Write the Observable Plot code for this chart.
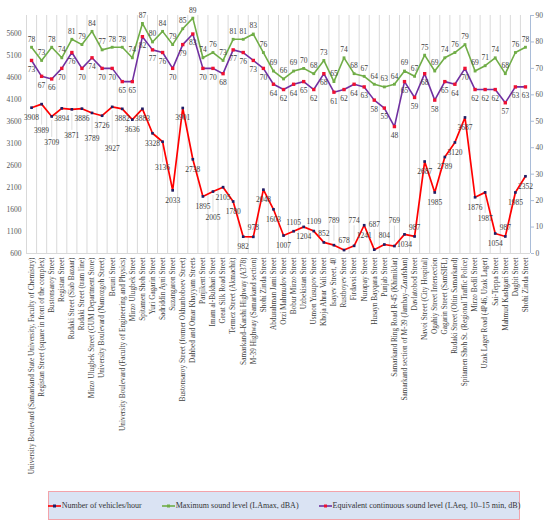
<!DOCTYPE html>
<html>
<head>
<meta charset="utf-8">
<script src="https://cdn.jsdelivr.net/npm/d3@7"></script>
<script src="https://cdn.jsdelivr.net/npm/@observablehq/plot@0.6"></script>
<style>
  html, body { margin: 0; padding: 0; background: #fff; }
  #chart svg { display: block; }
  .legend {
    margin: 3px 0 0 48px; width: 470px; height: 27px;
    background: #dae3f3; border: 1px solid #f3a3aa;
    display: flex; align-items: center; justify-content: center; gap: 20px;
    font-family: "Liberation Serif", serif; font-size: 8px; color: #333;
    white-space: nowrap;
  }
  .legend span { display: flex; align-items: center; flex-shrink: 0; }
  .legend svg { margin-right: 1px; }
</style>
</head>
<body>
<div id="chart"></div>
<div class="legend" id="legend"></div>
<script>
const categories = [
  "University Boulevard (Samarkand State University, Faculty of Chemistry)",
  "Registan Street (square in front of the complex)",
  "Bustonsaroy Street",
  "Registan Street",
  "Rudaki Street (Siab Bazaar)",
  "Rudaki Street (tram line)",
  "Mirzo Ulugbek Street (GUM Department Store)",
  "University Boulevard (Namozgoh Street)",
  "Beruni Street",
  "University Boulevard (Faculty of Engineering and Physics)",
  "Mirzo Ulugbek Street",
  "Spitamen Shoh Street",
  "Yuri Gagarin Street",
  "Sadriddin Ayni Street",
  "Suzangaron Street",
  "Bustonsaroy Street (former Okhunboboev Street)",
  "Dahbed and Omar Khayyam Streets",
  "Panjikent Street",
  "Imam al-Bukhari Street",
  "Great Silk Road Street",
  "Termez Street (Akmachit)",
  "Samarkand–Karshi Highway (A378)",
  "M-39 Highway (Samarkand section)",
  "Shohi Zinda Street",
  "Abdurahman Jami Street",
  "Orzi Mahmudov Street",
  "Bobur Mirzo Street",
  "Uzbekistan Street",
  "Usmon Yusupov Street",
  "Khoja Ahrar Vali Street",
  "Isayev Street, 40",
  "Rustboyev Street",
  "Firdavsi Street",
  "Nurapay Street",
  "Husayn Bayqara Street",
  "Punjab Street",
  "Samarkand Ring Road R-45 (Khimiklar)",
  "Samarkand section of M-39 (Jambay–Zarafshan)",
  "Davlatobod Street",
  "Navoi Street (City Hospital)",
  "Ogahiy Street Intersection",
  "Gagarin Street (SamSIFL)",
  "Rudaki Street (Oltin Samarkand)",
  "Spitamen Shoh St. (Regional Traffic Police)",
  "Mirzo Bedil Street",
  "Uzak Lager Road (4P46, Uzak Lager)",
  "Sai-Teppa Street",
  "Mahmud Kashgari Street",
  "Dagbit Street",
  "Shohi Zinda Street"
];
const vehicles = [3908, 3989, 3709, 3894, 3871, 3886, 3789, 3726, 3927, 3882,
  3636, 3883, 3328, 3136, 2033, 3901, 2738, 1895, 2005, 2105,
  1780, 982, 978, 2048, 1603, 1007, 1105, 1204, 1109, 852,
  789, 678, 774, 1241, 687, 804, 769, 1034, 987, 2687,
  1985, 2789, 3120, 3687, 1876, 1987, 1054, 987, 1985, 2352];
const laMax = [78, 73, 78, 74, 81, 79, 84, 77, 78, 78,
  74, 87, 80, 84, 79, 85, 89, 74, 76, 73,
  81, 81, 83, 76, 69, 66, 69, 70, 68, 73,
  65, 74, 68, 67, 64, 63, 64, 69, 67, 75,
  69, 74, 76, 79, 69, 71, 74, 68, 76, 78];
const laEq = [73, 67, 66, 70, 76, 70, 74, 70, 70, 65,
  65, 82, 77, 76, 70, 79, 83, 70, 70, 68,
  77, 76, 73, 70, 64, 62, 64, 65, 62, 68,
  61, 62, 64, 63, 58, 55, 48, 65, 59, 68,
  58, 65, 64, 70, 62, 62, 62, 57, 63, 63];
const leftTicks = d3.range(600, 5601, 500);
const rightTicks = d3.range(0, 91, 10);
const seriesNames = ["Number of vehicles/hour", "Maximum sound level (LAmax, dBA)", "Equivalent continuous sound level (LAeq, 10–15 min, dB)"];

// secondary (dB) axis mapped onto the primary scale: 0 dB -> 600, 90 dB -> 6000
const leftMin = 600, leftMax = 6000;
const toLeft = v => leftMin + v * (leftMax - leftMin) / 90;
const fromLeft = v => Math.round((v - leftMin) * 90 / (leftMax - leftMin));

const W = 550, H = 488, mTop = 15, mBottom = 235, mLeft = 26, mRight = 20;
const plotBottom = H - mBottom;
const unitsPerPx = (leftMax - leftMin) / (H - mTop - mBottom);
const pxPerIdx = (W - mLeft - mRight) / 50;

const rows = categories.map((c, k) => ({
  i: k + 1, cat: c, veh: vehicles[k], lamax: laMax[k], laeq: laEq[k]
}));

// greedy placement of vehicle labels so that neighbours do not collide
const placed = [];
const candidates = [10, 26, 42, -9, -25, -41];
rows.forEach(d => {
  const cx = mLeft + (d.i - 0.5) * pxPerIdx;
  const cy = mTop + (leftMax - d.veh) / unitsPerPx;
  const w = String(d.veh).length * 4 + 1;
  for (const dy of candidates) {
    const b = { x0: cx - w / 2, x1: cx + w / 2, y0: cy + dy - 4.5, y1: cy + dy + 4.5 };
    if (b.y1 > plotBottom + 1) continue;
    if (!placed.some(p => b.x0 < p.x1 && b.x1 > p.x0 && b.y0 < p.y1 && b.y1 > p.y0)) {
      placed.push(b); d.dy = dy; return;
    }
  }
  d.dy = -9;
});
const dyGroups = d3.groups(rows, d => d.dy);

const RED = "#ff0000", GREEN = "#70ad47", PURPLE = "#7030a0", NAVY = "#1f1f66", MARK = "#ee1133";
const txt = "#404040";

const chart = Plot.plot({
  width: W, height: H,
  marginLeft: mLeft, marginRight: mRight, marginTop: mTop, marginBottom: mBottom,
  style: { fontFamily: "Liberation Serif, serif", fontSize: "7.5px", color: txt, background: "#fff" },
  x: { type: "linear", domain: [0.5, 50.5], axis: null },
  y: { domain: [leftMin, leftMax], axis: null },
  marks: [
    Plot.gridX({ ticks: d3.range(0.5, 51, 1), stroke: "#d9d9d9", strokeOpacity: 1 }),
    Plot.ruleY([leftMin], { stroke: "#d9d9d9" }),
    Plot.axisY({ ticks: leftTicks, anchor: "left", tickSize: 0, tickPadding: 5, label: null,
      tickFormat: d3.format("d"), fill: "#595959" }),
    Plot.axisY({ ticks: rightTicks.map(toLeft), anchor: "right", tickFormat: fromLeft,
      tickSize: 3, tickPadding: 2, stroke: "#a9bcd8", label: null, fill: "#595959" }),
    Plot.ruleX([50.5], { stroke: "#a9bcd8" }),
    Plot.axisX({ ticks: d3.range(1, 51), anchor: "bottom", tickFormat: i => categories[i - 1],
      tickRotate: -90, tickSize: 0, tickPadding: 4, label: null, fontSize: 7.3, fill: "#404040" }),

    // leader lines for the displaced vehicle labels
    Plot.ruleX(rows.filter(d => Math.abs(d.dy) > 14), {
      x: "i",
      y1: d => d.veh - Math.sign(d.dy) * 4 * unitsPerPx,
      y2: d => d.veh - (d.dy - Math.sign(d.dy) * 5) * unitsPerPx,
      stroke: "#c8c8c8", strokeWidth: 0.6
    }),

    // LAmax
    Plot.line(rows, { x: "i", y: d => toLeft(d.lamax), stroke: GREEN, strokeWidth: 1.6 }),
    Plot.dot(rows, { x: "i", y: d => toLeft(d.lamax), symbol: "square", r: 1.6, fill: GREEN }),
    Plot.text(rows, { x: "i", y: d => toLeft(d.lamax), text: d => String(d.lamax), dy: -8, fill: txt, fontSize: 7.5 }),

    // LAeq
    Plot.line(rows, { x: "i", y: d => toLeft(d.laeq), stroke: PURPLE, strokeWidth: 1.6 }),
    Plot.dot(rows, { x: "i", y: d => toLeft(d.laeq), symbol: "square", r: 1.9, fill: MARK }),
    Plot.text(rows, { x: "i", y: d => toLeft(d.laeq), text: d => String(d.laeq), dy: 9, fill: txt, fontSize: 7.5 }),

    // vehicles
    Plot.line(rows, { x: "i", y: "veh", stroke: RED, strokeWidth: 1.7 }),
    Plot.dot(rows, { x: "i", y: "veh", symbol: "square", r: 1.5, fill: NAVY }),
    ...dyGroups.map(([dy, g]) =>
      Plot.text(g, { x: "i", y: "veh", text: d => String(d.veh), dy, fill: txt, fontSize: 7.5 }))
  ]
});
document.getElementById("chart").appendChild(chart);

// legend
const legendItems = [
  { name: seriesNames[0], line: RED, marker: NAVY },
  { name: seriesNames[1], line: GREEN, marker: GREEN },
  { name: seriesNames[2], line: PURPLE, marker: MARK }
];
const leg = document.getElementById("legend");
legendItems.forEach(it => {
  const s = document.createElement("span");
  s.innerHTML = `<svg width="13" height="6"><line x1="0" y1="3" x2="13" y2="3" stroke="${it.line}" stroke-width="1.6"/><rect x="5" y="1.5" width="3" height="3" fill="${it.marker}"/></svg>${it.name}`;
  leg.appendChild(s);
});
</script>
</body>
</html>
